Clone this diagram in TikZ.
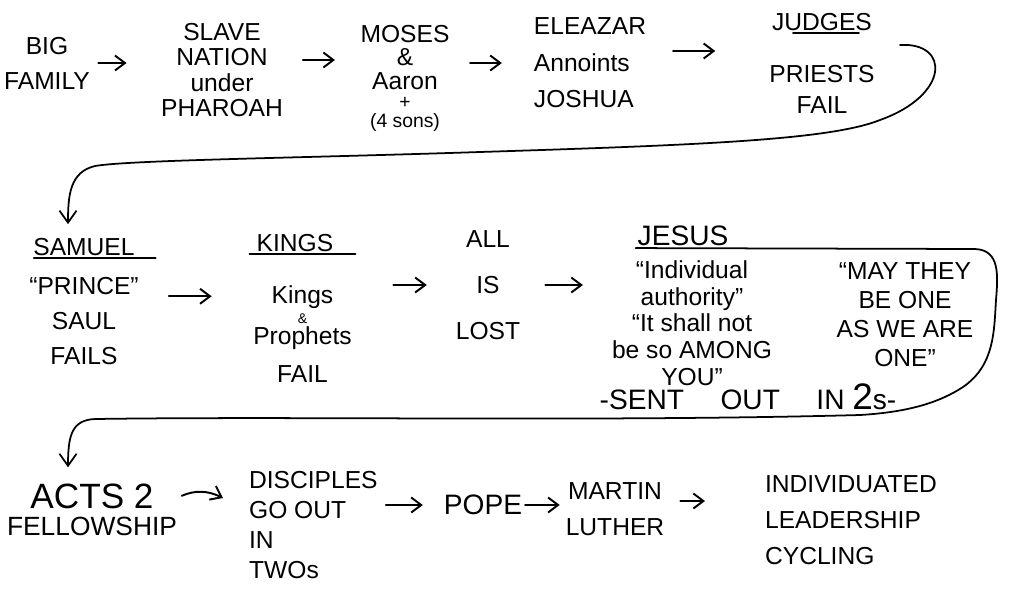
\documentclass[tikz,border=0pt]{standalone}
\usepackage{fontspec}
\setmainfont{Liberation Sans}
\usetikzlibrary{arrows.meta, positioning, calc}

\begin{document}
\begin{tikzpicture}[
    x=0.2mm, y=-0.2mm,
    hand/.style={align=center, inner sep=1pt, font=\fontsize{14}{#1}\selectfont},
    hand/.default=17,
    arrow/.style={-{Straight Barb[length=2mm, width=3mm]}, line width=1.1pt, line cap=round},
    rule/.style={line width=1pt, line cap=round},
    sweep/.style={-{Straight Barb[length=2.4mm, width=3.4mm]}, line width=1pt, line cap=round},
]
\useasboundingbox (0,0) rectangle (1015,588);

% Row 1: family to judges
\node[hand=20] (family) at (47,63) {BIG\\FAMILY};
\node[hand=14.4] (slave) at (222,70) {SLAVE\\NATION\\under\\PHAROAH};
\node[hand=13.6] (moses) at (405,78) {MOSES\\\&\\Aaron\\[-3pt]{\fontsize{11}{13}\selectfont +}\\[-3pt]{\fontsize{11}{13}\selectfont (4 sons)}};
\node[hand=20.8, align=left] (eleazar) at (590,63) {ELEAZAR\\Annoints\\JOSHUA};
\node[hand] (judges) at (822,22) {JUDGES};
\node[hand=17.6, below=6mm of judges] (priests) {PRIESTS\\FAIL};

% Row 2: samuel to jesus
\node[hand] (samuelhead) at (84,247) {SAMUEL};
\node[hand=20, below=3.5mm of samuelhead] (samuel) {“PRINCE”\\SAUL\\FAILS};
\node[hand] (kingshead) at (295,243) {KINGS};
\node[hand=22, below=6mm of kingshead, xshift=1.5mm] (kings) {Kings\\[-11pt]{\footnotesize\&}\\[-10pt]Prophets\\FAIL};
\node[hand=26] (lost) at (488,285) {ALL\\IS\\LOST};
\node[hand, font=\fontsize{16}{20}\selectfont] (jesus) at (683,236) {JESUS};
\node[hand=15.2] (saying) at (692,323) {“Individual\\authority”\\“It shall not\\be so AMONG\\YOU”};
\node[hand=16.5] (prayer) at (905,315) {“MAY THEY\\BE ONE\\AS WE ARE\\ONE”};
\node[hand, font=\fontsize{16}{20}\selectfont] (sent) at (748,397) {-SENT\hspace{1.3em}OUT\hspace{1.3em}IN {\fontsize{21}{20}\selectfont 2}s-};

% Row 3: acts to cycling
\node[hand=15, font=\fontsize{15}{15}\selectfont] (acts) at (92,510) {{\fontsize{20}{22}\selectfont ACTS 2}\\FELLOWSHIP};
\node[hand=17, align=left, anchor=west] (disciples) at (247,525) {DISCIPLES\\GO OUT\\IN\\TWOs};
\node[hand, font=\fontsize{16}{20}\selectfont] (pope) at (483,505) {POPE};
\node[hand=20.5] (luther) at (615,509) {MARTIN\\LUTHER};
\node[hand=20.5, align=left, anchor=west] (cycling) at (763,520) {INDIVIDUATED\\LEADERSHIP\\CYCLING};

% Underlines
\draw[rule] ([xshift=4.6mm]judges.south west) -- ([xshift=-3mm]judges.south east);
\draw[rule] ([xshift=0.5mm]samuelhead.south west) -- ([xshift=3.8mm]samuelhead.south east);
\draw[rule] ([xshift=-1mm]kingshead.south west) -- ([xshift=4mm]kingshead.south east);

% Arrows
\draw[arrow, shorten <=1.3mm, shorten >=6.5mm] (family.east) -- (family.east -| slave.west);
\draw[arrow, shorten <=3.6mm, shorten >=4.7mm] ([yshift=2mm]slave.east) -- ([yshift=2mm]slave.east -| moses.west);
\draw[arrow, shorten <=3.7mm, shorten >=6mm] (eleazar.west -| moses.east) -- (eleazar.west);
\draw[arrow, shorten <=5mm, shorten >=10.4mm] ([yshift=2.4mm]eleazar.east) -- ([yshift=2.4mm]eleazar.east -| priests.west);
\draw[arrow, shorten <=5.6mm, shorten >=7.9mm] ([yshift=5mm]samuel.east) -- ([yshift=5mm]samuel.east -| kings.west);
\draw[arrow, shorten <=7.9mm, shorten >=5.4mm] (lost.west -| kings.east) -- (lost.west);
\draw[arrow, shorten <=4.6mm, shorten >=5.4mm] (lost.east) -- (lost.east -| saying.west);
\draw[arrow, shorten <=0.6mm] ([yshift=2.6mm]acts.east) to[bend left=25] ($(acts.east -| disciples.west)+(-24,-12)$);
\draw[arrow, shorten <=1.2mm, shorten >=3.8mm] (pope.west -| disciples.east) -- (pope.west);
\draw[arrow, shorten <=0.2mm, shorten >=0.8mm] (pope.east) -- (pope.east -| luther.west);
\draw[arrow, shorten <=2.8mm, shorten >=11.6mm] ([yshift=1.6mm]luther.east) -- ([yshift=1.6mm]luther.east -| cycling.west);

% Turns between rows
\coordinate (hook) at (900,45);
\draw[sweep] (hook) .. controls (950,42) and (950,95) .. (880,120)
    .. controls (830,140) and (700,145) .. (480,152)
    .. controls (300,158) and (130,160) .. (95,166)
    .. controls (70,172) and (68,195) .. ([xshift=-3.2mm, yshift=2.4mm]samuelhead.north);
\draw[sweep] (jesus.south west) -- (975,249)
    .. controls (1000,250) and (998,275) .. (996,300)
    .. controls (994,330) and (995,365) .. (963,387)
    .. controls (940,402) and (910,412) .. (860,415)
    .. controls (600,422) and (300,416) .. (95,419)
    .. controls (72,420) and (68,435) .. ([xshift=-4.8mm, yshift=3mm]acts.north);

\end{tikzpicture}
\end{document}
